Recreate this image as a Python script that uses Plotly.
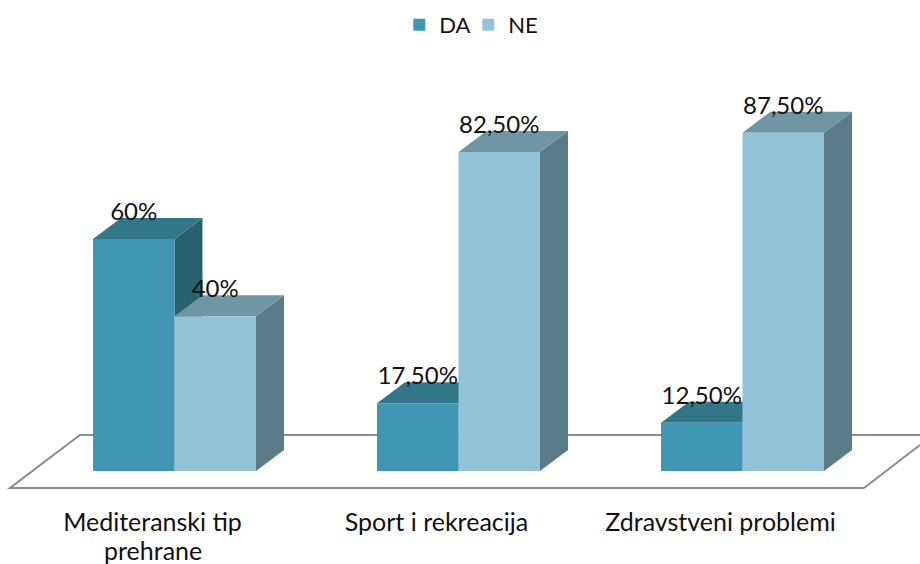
import plotly.graph_objects as go

categories = ["Mediteranski tip", "Sport i rekreacija", "Zdravstveni problemi"]
second_lines = ["prehrane", "", ""]
da_values = [60, 17.5, 12.5]
ne_values = [40, 82.5, 87.5]
da_labels = ["60%", "17,50%", "12,50%"]
ne_labels = ["40%", "82,50%", "87,50%"]

W, H = 920, 564
BASE_PX = 471          # pixel row of value 0
PX_PER_UNIT_Y = 3.867
PX_PER_CAT = 284
CENTER0_PX = 174.5
BAR_PX = 81.5
DEPTH_X_PX, DEPTH_Y_PX = 28, 21
LABEL_SHIFT_PX = 22

dx = DEPTH_X_PX / PX_PER_CAT
dy = DEPTH_Y_PX / PX_PER_UNIT_Y
bw = BAR_PX / PX_PER_CAT
shift = LABEL_SHIFT_PX / PX_PER_CAT
xr = [-CENTER0_PX / PX_PER_CAT, (W - CENTER0_PX) / PX_PER_CAT]
yr = [0, BASE_PX / PX_PER_UNIT_Y]
FONT = "Lato"
TEXT = "#111111"

fig = go.Figure()


def add_faces(values, offset, side_col, top_col, z):
    for i, v in enumerate(values):
        x0 = i + offset * bw
        x1 = x0 + bw
        fig.add_trace(go.Scatter(
            x=[x1, x1 + dx, x1 + dx, x1, x1], y=[0, dy, v + dy, v, 0],
            mode="lines", fill="toself", fillcolor=side_col, line=dict(width=0),
            showlegend=False, hoverinfo="skip", zorder=z))
        fig.add_trace(go.Scatter(
            x=[x0, x1, x1 + dx, x0 + dx, x0], y=[v, v, v + dy, v + dy, v],
            mode="lines", fill="toself", fillcolor=top_col, line=dict(width=0),
            showlegend=False, hoverinfo="skip", zorder=z))


idx = list(range(len(categories)))
add_faces(da_values, -1, "#2A6170", "#33768A", 1)
fig.add_trace(go.Bar(name="DA", x=idx, y=da_values, marker=dict(color="#4097B3", line=dict(width=0)), zorder=2))
add_faces(ne_values, 0, "#5B7B88", "#6F96A5", 3)
fig.add_trace(go.Bar(name="NE", x=idx, y=ne_values, marker=dict(color="#93C3D6", line=dict(width=0)), zorder=4))

for vals, labs, off in ((da_values, da_labels, -0.5), (ne_values, ne_labels, 0.5)):
    fig.add_trace(go.Scatter(
        x=[i + off * bw for i in idx], y=[v + dy + 1 for v in vals], text=labs,
        mode="text", textposition="middle center",
        textfont=dict(family=FONT, size=24, color=TEXT),
        showlegend=False, hoverinfo="skip", zorder=5))


def px(x):
    return x / W


def py(y):
    return (H - 93 - y) / (H - 93)


LINE = dict(color="#8C8C8C", width=2)
floor_open = "M {} {} L {} {} L {} {} L {} {}".format(
    px(920), py(435), px(80), py(435), px(10), py(488), px(864), py(488))
shapes = [
    dict(type="path", xref="paper", yref="paper", path=floor_open, line=LINE, layer="below"),
    dict(type="line", xref="paper", yref="paper", x0=px(864), y0=py(488), x1=px(920), y1=py(445),
         line=LINE, layer="below"),
]

annotations = [
    dict(x=i - shift, y=py(550), xref="x", yref="paper", text=t, showarrow=False, yanchor="middle",
         font=dict(family=FONT, size=25, color=TEXT))
    for i, t in enumerate(second_lines) if t
]

fig.update_layout(
    width=W, height=H, autosize=False,
    margin=dict(l=0, r=0, t=0, b=H - BASE_PX, autoexpand=False),
    paper_bgcolor="white", plot_bgcolor="rgba(0,0,0,0)",
    barmode="group", bargap=1 - 2 * bw, bargroupgap=0,
    showlegend=True,
    legend=dict(orientation="h", x=0.509, xanchor="center", y=0.993, yanchor="top",
                yref="container", traceorder="normal",
                font=dict(family=FONT, size=22, color=TEXT), itemwidth=30,
                entrywidth=24, entrywidthmode="pixels"),
    shapes=shapes, annotations=annotations,
    xaxis=dict(range=xr, tickmode="array", tickvals=[i - shift for i in idx], ticktext=categories,
               showgrid=False, zeroline=False, showline=False, automargin=False,
               ticks="outside", ticklen=29, tickcolor="rgba(0,0,0,0)",
               tickfont=dict(family=FONT, size=25, color=TEXT)),
    yaxis=dict(range=yr, visible=False, showgrid=False, zeroline=False),
)

fig.write_html("out.html", config=dict(displayModeBar=False),
               post_script="document.body.style.margin='0';document.body.style.overflow='hidden';")
